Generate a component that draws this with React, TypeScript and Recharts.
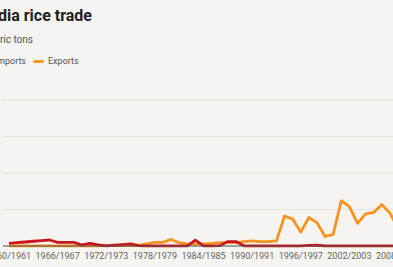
import React from "react";
import { LineChart, Line, XAxis, YAxis, CartesianGrid } from "recharts";

const years = [
  "1960/1961", "1961/1962", "1962/1963", "1963/1964", "1964/1965", "1965/1966",
  "1966/1967", "1967/1968", "1968/1969", "1969/1970", "1970/1971", "1971/1972",
  "1972/1973", "1973/1974", "1974/1975", "1975/1976", "1976/1977", "1977/1978",
  "1978/1979", "1979/1980", "1980/1981", "1981/1982", "1982/1983", "1983/1984",
  "1984/1985", "1985/1986", "1986/1987", "1987/1988", "1988/1989", "1989/1990",
  "1990/1991", "1991/1992", "1992/1993", "1993/1994", "1994/1995", "1995/1996",
  "1996/1997", "1997/1998", "1998/1999", "1999/2000", "2000/2001", "2001/2002",
  "2002/2003", "2003/2004", "2004/2005", "2005/2006", "2006/2007", "2007/2008",
  "2008/2009",
];

const exportsMt = [
  0.03, 0.03, 0.03, 0.03, 0.03, 0.03, 0.03, 0.03, 0.03, 0.03, 0.03, 0.03,
  0.05, 0.05, 0.05, 0.05, 0.1, 0.3, 0.5, 0.5, 0.9, 0.45, 0.3, 0.25,
  0.3, 0.35, 0.45, 0.45, 0.45, 0.6, 0.7, 0.6, 0.6, 0.7, 4.1, 3.7,
  1.9, 3.9, 3.2, 1.3, 1.6, 6.2, 5.4, 3.1, 4.4, 4.6, 5.7, 4.5,
  2.5,
];

const importsMt = [
  0.37, 0.45, 0.55, 0.65, 0.75, 0.82, 0.5, 0.5, 0.5, 0.14, 0.37, 0.15,
  0.02, 0.1, 0.2, 0.3, 0.05, 0.03, 0.03, 0.03, 0.03, 0.03, 0.03, 0.8,
  0.03, 0.03, 0.05, 0.6, 0.6, 0.03, 0.02, 0.02, 0.02, 0.02, 0.02, 0.02,
  0.02, 0.08, 0.1, 0.03, 0.02, 0.02, 0.02, 0.02, 0.02, 0.02, 0.02, 0.02,
  0.02,
];

const yTicks = [0, 5, 10, 15, 20];

const data = years.map((year, i) => ({
  year,
  exports: exportsMt[i],
  imports: importsMt[i],
}));

const BG = "#f5f4f0";
const ORANGE = "#f7931e";
const RED = "#c9151e";
const FONT = "Roboto, 'Noto Sans', sans-serif";

export default function App() {
  return (
    <div
      style={{
        position: "fixed",
        left: 0,
        top: 0,
        width: 393,
        height: 267,
        overflow: "hidden",
        background: BG,
        fontFamily: FONT,
      }}
    >
      <div
        style={{
          position: "absolute",
          right: 393 - 92,
          top: 7.5,
          fontSize: 16,
          lineHeight: "16px",
          fontWeight: 700,
          color: "#222",
          whiteSpace: "nowrap",
          textAlign: "right",
        }}
      >
        India rice trade
      </div>
      <div
        style={{
          position: "absolute",
          right: 393 - 33,
          top: 34.5,
          fontSize: 10,
          lineHeight: "10px",
          color: "#555",
          whiteSpace: "nowrap",
        }}
      >
        Million metric tons
      </div>
      <div
        style={{
          position: "absolute",
          right: 393 - 26,
          top: 56.7,
          fontSize: 9,
          lineHeight: "9px",
          color: "#555",
          whiteSpace: "nowrap",
          display: "flex",
          alignItems: "center",
        }}
      >
        <span
          style={{
            display: "inline-block",
            width: 11,
            height: 3,
            borderRadius: 1.5,
            background: RED,
            marginRight: 4,
          }}
        />
        Imports
      </div>
      <div
        style={{
          position: "absolute",
          left: 33,
          top: 56.7,
          fontSize: 9,
          lineHeight: "9px",
          color: "#555",
          whiteSpace: "nowrap",
          display: "flex",
          alignItems: "center",
        }}
      >
        <span
          style={{
            display: "inline-block",
            width: 11,
            height: 3,
            borderRadius: 1.5,
            background: ORANGE,
            marginRight: 4,
          }}
        />
        Exports
      </div>
      <div style={{ position: "absolute", left: 0, top: 0 }}>
        <LineChart
          width={404}
          height={267}
          data={data}
          margin={{ top: 100, right: 0, bottom: 0, left: 3 }}
        >
          <CartesianGrid vertical={false} stroke="#e3e1dc" strokeWidth={1} />
          <XAxis
            dataKey="year"
            interval={5}
            height={21}
            padding={{ left: 6, right: 6 }}
            tickLine={false}
            tickSize={0}
            tickMargin={7}
            axisLine={{ stroke: "#555", strokeWidth: 1 }}
            tick={{ fontSize: 9, fill: "#666", fontFamily: FONT }}
          />
          <YAxis hide domain={[0, 20]} ticks={yTicks} />
          <Line
            type="linear"
            dataKey="exports"
            stroke={ORANGE}
            strokeWidth={2.8}
            dot={false}
            strokeLinejoin="round"
            isAnimationActive={false}
          />
          <Line
            type="linear"
            dataKey="imports"
            stroke={RED}
            strokeWidth={2.8}
            dot={false}
            strokeLinejoin="round"
            isAnimationActive={false}
          />
        </LineChart>
      </div>
    </div>
  );
}
